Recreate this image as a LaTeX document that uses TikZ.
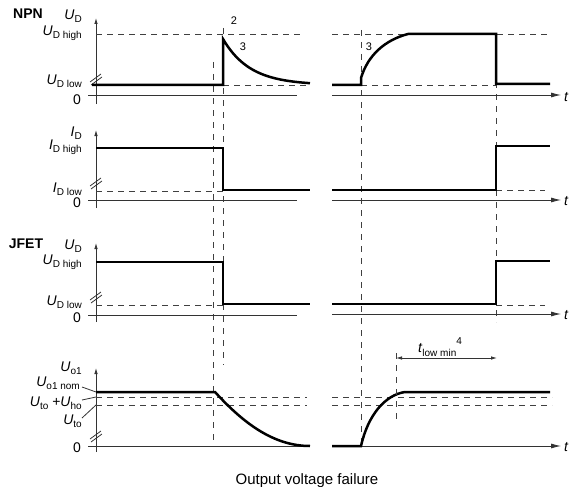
\documentclass[tikz,border=0pt]{standalone}
\usepackage{fontspec}
\setmainfont{Liberation Sans}
\usetikzlibrary{arrows.meta}

\newcommand{\sub}[1]{\raisebox{-0.45ex}{\fontsize{10}{10}\selectfont #1}}

\begin{document}
\begin{tikzpicture}[x=1pt,y=-1pt,
  sig/.style={line width=2.5pt, line join=miter},
  guide/.style={black!75, line width=0.7pt, dash pattern=on 6pt off 5pt},
  vguide/.style={black!75, line width=0.7pt, dash pattern=on 6pt off 6pt},
  axis/.style={black!80, line width=0.8pt},
  yarrow/.style={axis, -{Latex[length=6pt,width=3.5pt]}},
  tarrow/.style={axis, -{Latex[length=10pt,width=5pt]}},
  lbl/.style={font=\fontsize{14}{16}\selectfont, anchor=east, inner sep=0pt},
  head/.style={font=\bfseries\fontsize{14}{16}\selectfont, inner sep=0pt},
  num/.style={font=\fontsize{11}{12}\selectfont, inner sep=0pt},
  tlbl/.style={font=\itshape\fontsize{14}{16}\selectfont, anchor=west, inner sep=0pt}]
\useasboundingbox (0,0) rectangle (573,487);

% vertical time markers
\draw[vguide] (213,62) -- (213,446);
\draw[vguide] (223,28) -- (223,365);
\draw[vguide] (361,30) -- (361,446);
\draw[vguide] (496,34) -- (496,322);

% ---- NPN: U_D
\node[head] (npn) at (28,14) {NPN};
\node[lbl] (npnU) at (82,16) {\textit{U}\sub{D}};
\node[lbl] (npnHigh) at (82,33) {\textit{U}\sub{D high}};
\node[lbl] (npnLow) at (82,81) {\textit{U}\sub{D low}};
\node[lbl] (npnZero) at (81,100) {0};
\node[tlbl] (npnT) at (564,97) {t};
\draw[yarrow] (96,104) -- (96,18);
\draw[axis] (88,95) -- (297,95);
\draw[tarrow] (332,95) -- (561,95);
\draw[axis] (90,82) -- (101,74) (91,85) -- (102,77);
\draw[guide] (96,34) -- (300,34) (332,34) -- (550,34);
\draw[guide] (223,85) -- (310,85) (361,85) -- (496,85);
\draw[sig] (92,85) -- (223,85) -- (223,39)
  -- plot[domain=223:310, samples=50] (\x, {85-46*exp(-(\x-223)/27)});
\draw[sig] (332,85) -- (361,85) -- (361,78)
  .. controls (368,55) and (385,40) .. (408,34)
  -- (496,34) -- (496,84) -- (550,84);
\node[num] (two) at (234,21) {2};
\node[num] (threeA) at (243,47) {3};
\node[num] (threeB) at (369,47) {3};

% ---- NPN: I_D
\node[lbl] (idI) at (82,133) {\textit{I}\sub{D}};
\node[lbl] (idHigh) at (82,147) {\textit{I}\sub{D high}};
\node[lbl] (idLow) at (82,189) {\textit{I}\sub{D low}};
\node[lbl] (idZero) at (81,203) {0};
\node[tlbl] (idT) at (564,201) {t};
\draw[yarrow] (96,208) -- (96,130);
\draw[axis] (88,200) -- (297,200);
\draw[tarrow] (332,200) -- (561,200);
\draw[axis] (90,186) -- (101,178) (91,189) -- (102,181);
\draw[guide] (96,191) -- (223,191) (496,190) -- (545,190);
\draw[sig] (96,148) -- (223,148) -- (223,190) -- (310,190);
\draw[sig] (332,190) -- (496,190) -- (496,146) -- (550,146);

% ---- JFET: U_D
\node[head] (jfet) at (26,244) {JFET};
\node[lbl] (jfU) at (82,246) {\textit{U}\sub{D}};
\node[lbl] (jfHigh) at (82,262) {\textit{U}\sub{D high}};
\node[lbl] (jfLow) at (82,302) {\textit{U}\sub{D low}};
\node[lbl] (jfZero) at (81,318) {0};
\node[tlbl] (jfT) at (564,315) {t};
\draw[yarrow] (96,322) -- (96,243);
\draw[axis] (88,315) -- (297,315);
\draw[tarrow] (332,314) -- (561,314);
\draw[axis] (90,300) -- (101,292) (91,303) -- (102,295);
\draw[guide] (96,305) -- (223,305) (496,305) -- (545,305);
\draw[sig] (96,262) -- (223,262) -- (223,304) -- (310,304);
\draw[sig] (332,304) -- (496,304) -- (496,261) -- (550,261);

% ---- output U_o1
\node[lbl] (uoU) at (82,368) {\textit{U}\sub{o1}};
\node[lbl] (uoNom) at (80,383) {\textit{U}\sub{o1 nom}};
\node[lbl] (uoSum) at (82,403) {\textit{U}\sub{to} +\textit{U}\sub{ho}};
\node[lbl] (uoTo) at (82,421) {\textit{U}\sub{to}};
\node[lbl] (uoZero) at (81,448) {0};
\node[tlbl] (uoT) at (564,447) {t};
\coordinate (pNom) at (96,392);
\coordinate (pSum) at (96,397);
\coordinate (pTo) at (96,405);
\draw[axis] (82,387) -- (pNom);
\draw[axis] (82,400) -- (pSum);
\draw[axis] (82,418) -- (pTo);
\draw[yarrow] (96,452) -- (96,368);
\draw[axis] (88,446) -- (310,446);
\draw[tarrow] (332,446) -- (561,446);
\draw[axis] (90,439) -- (101,431) (91,442) -- (102,434);
\draw[guide] (96,397) -- (307,397) (332,397) -- (552,397);
\draw[guide] (96,405) -- (307,405) (332,405) -- (552,405);
\draw[sig] (96,392) -- (215,392) .. controls (245,425) and (275,446) .. (310,446);
\draw[sig] (332,446) -- (361,446) .. controls (368,415) and (385,395) .. (405,392) -- (550,392);
\draw[vguide] (396,353) -- (396,423);
\coordinate (tlA) at (396,358);
\coordinate (tlB) at (497,358);
\draw[axis, {Latex[length=6pt,width=3.5pt]}-{Latex[length=6pt,width=3.5pt]}] (tlA) -- (tlB);
\node[font=\fontsize{14}{16}\selectfont, inner sep=0pt] (tlow) at (440,347)
  {\textit{t}\sub{low min}\raisebox{1.1ex}{\fontsize{10}{10}\selectfont 4}};

\node[font=\fontsize{15}{17}\selectfont, inner sep=0pt] (caption) at (307,481) {Output voltage failure};
\end{tikzpicture}
\end{document}
